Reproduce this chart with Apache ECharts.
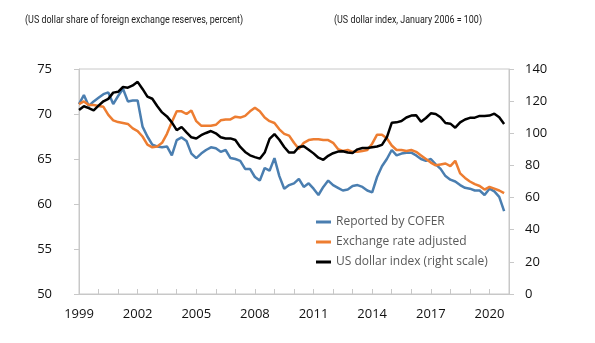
<!DOCTYPE html>
<html>
<head>
<meta charset="utf-8">
<script src="https://cdn.jsdelivr.net/npm/echarts@6/dist/echarts.min.js"></script>
<style>
html,body{margin:0;padding:0;background:#fff;}
#chart{width:595px;height:343px;}
</style>
</head>
<body>
<div id="chart"></div>
<script>
// Quarterly periods 1999Q1 .. 2021Q1 (last one is the axis end, no data)
const quarters = [];
for (let y = 1999; y <= 2021; y++) {
  for (let q = 1; q <= 4; q++) {
    if (y === 2021 && q > 1) break;
    quarters.push(y + 'Q' + q);
  }
}
const xTickLabels = ['1999', '2002', '2005', '2008', '2011', '2014', '2017', '2020'];

const seriesNames = ['Reported by COFER', 'Exchange rate adjusted', 'US dollar index (right scale)'];
const leftTitle = '(US dollar share of foreign exchange reserves, percent)';
const rightTitle = '(US dollar index, January 2006 = 100)';

// US dollar share, reported by COFER (percent)
const cofer = [
  71.1, 72.1, 70.9, 71.4, 71.8, 72.2, 72.4, 71.1,
  72.0, 72.8, 71.4, 71.5, 71.5, 68.6, 67.5, 66.6,
  66.4, 66.3, 66.4, 65.4, 67.1, 67.4, 67.0, 65.6,
  65.1, 65.6, 66.0, 66.3, 66.2, 65.8, 66.0, 65.1,
  65.0, 64.8, 63.9, 63.9, 63.0, 62.6, 64.0, 63.7,
  65.1, 63.1, 61.7, 62.1, 62.3, 62.8, 61.9, 62.3,
  61.7, 61.0, 61.9, 62.6, 62.1, 61.8, 61.5, 61.6,
  62.0, 62.1, 61.9, 61.5, 61.3, 63.0, 64.2, 65.0,
  66.0, 65.4, 65.6, 65.7, 65.7, 65.4, 65.0, 64.8,
  65.0, 64.4, 63.9, 63.1, 62.7, 62.5, 62.1, 61.8,
  61.7, 61.5, 61.5, 61.0, 61.7, 61.4, 60.8, 59.2
];

// US dollar share, exchange rate adjusted (percent)
const adjusted = [
  71.1, 71.4, 71.0, 71.0, 70.9, 70.8, 69.9, 69.3,
  69.1, 69.0, 68.9, 68.4, 68.1, 67.5, 66.6, 66.3,
  66.4, 66.8, 67.8, 69.1, 70.3, 70.3, 70.0, 70.4,
  69.2, 68.7, 68.7, 68.7, 68.8, 69.3, 69.4, 69.4,
  69.7, 69.6, 69.8, 70.3, 70.7, 70.3, 69.6, 69.2,
  69.0, 68.3, 67.8, 67.6, 66.8, 66.1, 66.8, 67.1,
  67.2, 67.2, 67.1, 67.1, 66.8, 66.1, 65.9, 66.0,
  65.8, 65.8, 65.9, 66.0, 66.7, 67.7, 67.7, 67.3,
  66.5, 66.0, 66.0, 65.9, 66.0, 65.8, 65.4, 65.0,
  64.6, 64.3, 64.4, 64.5, 64.2, 64.8, 63.4, 62.9,
  62.5, 62.2, 62.0, 61.6, 61.9, 61.7, 61.5, 61.2
];

// US dollar index (January 2006 = 100), right scale
const dollarIndex = [
  114.5, 116.8, 115.7, 114.3, 117.2, 119.9, 121.4, 125.3,
  125.8, 128.8, 128.4, 129.8, 132.0, 127.6, 122.8, 121.5,
  117.0, 113.0, 110.5, 106.8, 102.0, 103.9, 100.6, 97.5,
  96.8, 98.8, 100.2, 101.4, 100.0, 97.5, 96.8, 96.8,
  95.8, 91.5, 88.4, 86.3, 85.2, 84.2, 88.0, 96.5,
  99.5, 96.0, 91.5, 88.0, 88.0, 91.5, 92.0, 89.8,
  87.5, 84.8, 83.5, 86.0, 87.6, 88.6, 88.8, 88.0,
  87.8, 90.0, 90.8, 90.8, 91.3, 91.8, 92.8, 97.5,
  106.5, 106.8, 107.6, 109.8, 111.0, 111.2, 107.2, 109.5,
  112.4, 112.0, 110.0, 106.4, 106.0, 103.5, 106.8, 108.6,
  109.6, 109.7, 110.8, 110.8, 111.0, 112.2, 110.0, 105.8
];

const colors = ['#4a7eb0', '#ed7d31', '#000000'];
const axisGrey = '#c8c8c8';
const labelFont = "'Open Sans', 'Noto Sans', sans-serif";
const titleFontCss = "11px Roboto, sans-serif";

// condense the header texts horizontally to match the narrow face of the original
const measureCtx = document.createElement('canvas').getContext('2d');
measureCtx.font = titleFontCss;
function condense(text, targetWidth) {
  const w = measureCtx.measureText(text).width;
  return w > 0 ? Math.min(1, targetWidth / w) : 1;
}

const chart = echarts.init(document.getElementById('chart'), null, {renderer: 'canvas'});
chart.setOption({
  animation: false,
  backgroundColor: '#ffffff',
  graphic: [
    {type: 'text', x: 25, y: 15, scaleX: condense(leftTitle, 218), scaleY: 1,
     style: {text: leftTitle, font: titleFontCss, fill: '#222', textVerticalAlign: 'top'}},
    {type: 'text', x: 334, y: 15, scaleX: condense(rightTitle, 148), scaleY: 1,
     style: {text: rightTitle, font: titleFontCss, fill: '#222', textVerticalAlign: 'top'}}
  ],
  grid: {left: 79, right: 86, top: 69, bottom: 49, show: true, borderColor: axisGrey, borderWidth: 1},
  legend: {
    orient: 'vertical', left: 311, top: 210, itemGap: 6,
    icon: 'rect', itemWidth: 15, itemHeight: 3,
    textStyle: {fontFamily: labelFont, fontSize: 12, color: '#595959', lineHeight: 14},
    data: seriesNames
  },
  xAxis: {
    type: 'category', data: quarters, boundaryGap: false,
    axisLine: {lineStyle: {color: axisGrey}},
    axisTick: {inside: true, length: 5, lineStyle: {color: axisGrey},
      interval: function (i, v) { return v.slice(-2) === 'Q1'; }},
    axisLabel: {margin: 14, fontFamily: labelFont, fontSize: 13, color: '#111',
      interval: function (i, v) { return v.slice(-2) === 'Q1' && xTickLabels.indexOf(v.slice(0, 4)) >= 0; },
      formatter: function (v) { return v.slice(0, 4); }},
    splitLine: {show: false}
  },
  yAxis: [
    {type: 'value', min: 50, max: 75, interval: 5, position: 'left',
     axisLine: {show: true, lineStyle: {color: axisGrey}},
     axisTick: {show: true, length: 5, lineStyle: {color: axisGrey}},
     axisLabel: {margin: 27, fontFamily: labelFont, fontSize: 13, color: '#111'},
     splitLine: {show: false}},
    {type: 'value', min: 0, max: 140, interval: 20, position: 'right',
     axisLine: {show: true, lineStyle: {color: axisGrey}},
     axisTick: {show: true, length: 5, lineStyle: {color: axisGrey}},
     axisLabel: {margin: 16, fontFamily: labelFont, fontSize: 13, color: '#111'},
     splitLine: {show: false}}
  ],
  series: [
    {name: seriesNames[0], type: 'line', data: cofer, yAxisIndex: 0, showSymbol: false,
     lineStyle: {width: 2.5, color: colors[0]}, itemStyle: {color: colors[0]}},
    {name: seriesNames[1], type: 'line', data: adjusted, yAxisIndex: 0, showSymbol: false,
     lineStyle: {width: 2.5, color: colors[1]}, itemStyle: {color: colors[1]}},
    {name: seriesNames[2], type: 'line', data: dollarIndex, yAxisIndex: 1, showSymbol: false,
     lineStyle: {width: 2.5, color: colors[2]}, itemStyle: {color: colors[2]}}
  ]
});
</script>
</body>
</html>
